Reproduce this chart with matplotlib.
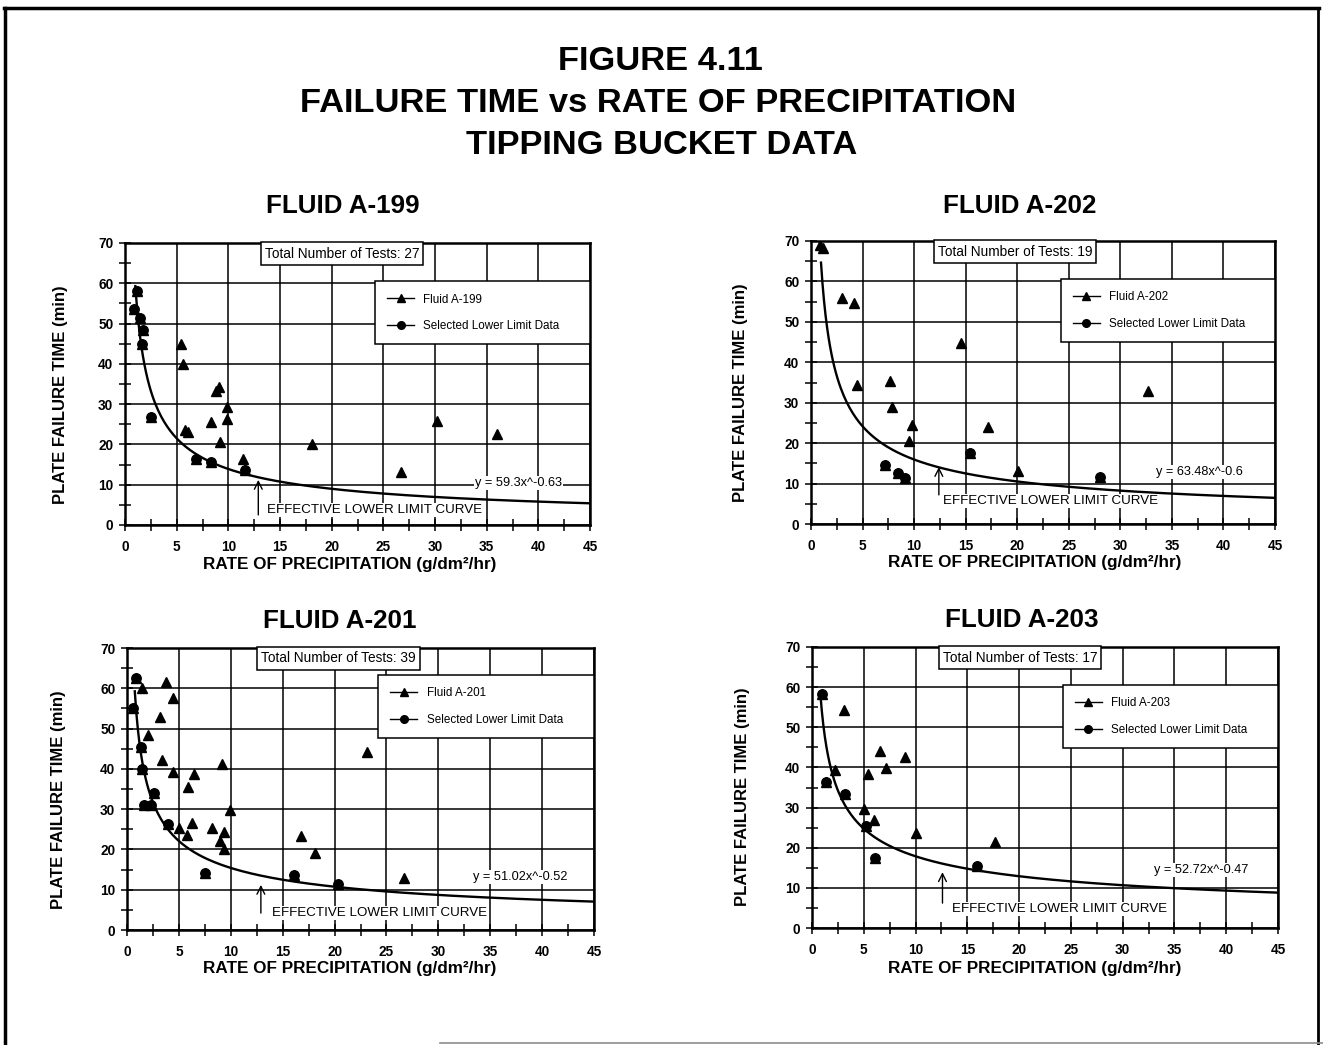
import numpy as np
import matplotlib
matplotlib.use("Agg")
import matplotlib.pyplot as plt
from matplotlib.lines import Line2D

plt.rcParams['font.family'] = ['Liberation Sans', 'DejaVu Sans']

# ---------------- data ----------------
fluids = ["A-199", "A-202", "A-201", "A-203"]
total_tests = [27, 19, 39, 17]
fit_coef = [59.3, 63.48, 51.02, 52.72]
fit_exp = [-0.63, -0.6, -0.52, -0.47]
fit_labels = ["y = 59.3x^-0.63", "y = 63.48x^-0.6", "y = 51.02x^-0.52", "y = 52.72x^-0.47"]
fit_start = [1.0, 0.97, 0.75, 0.8]

a199_x = [0.9, 1.2, 1.45, 1.6, 1.75, 2.5, 5.4, 5.6, 5.8, 6.05, 6.9, 8.3, 8.3, 8.85, 9.05,
          9.2, 9.9, 9.9, 11.4, 11.65, 18.1, 26.7, 30.2, 36.0]
a199_y = [53.7, 58.0, 51.5, 45.0, 48.5, 26.9, 45.0, 39.9, 23.5, 23.0, 16.4, 25.5, 15.7, 33.2, 34.3,
          20.5, 29.3, 26.3, 16.5, 13.6, 20.0, 13.1, 25.8, 22.7]
a199_sel_x = [0.9, 1.2, 1.45, 1.6, 1.75, 2.5, 6.9, 8.3, 11.65]
a199_sel_y = [53.7, 58.0, 51.5, 45.0, 48.5, 26.9, 16.4, 15.7, 13.6]

a202_x = [0.9, 1.2, 3.0, 4.2, 4.5, 7.2, 7.7, 7.9, 8.4, 9.1, 9.5, 9.8, 14.5, 15.4, 17.2, 20.1, 28.0, 32.7]
a202_y = [69.0, 68.3, 55.8, 54.7, 34.4, 14.6, 35.4, 28.9, 12.5, 11.5, 20.6, 24.5, 44.7, 17.6, 23.9, 13.2, 11.7, 33.0]
a202_sel_x = [7.2, 8.4, 9.1, 15.4, 28.0]
a202_sel_y = [14.6, 12.5, 11.5, 17.6, 11.7]

a201_x = [0.6, 0.85, 1.4, 1.35, 2.0, 1.45, 1.6, 2.3, 2.6, 3.15, 3.4, 3.8, 4.4, 4.4, 3.95, 5.0, 5.8,
          5.9, 6.3, 6.5, 7.5, 8.2, 9.0, 9.2, 9.3, 9.3, 9.9, 16.1, 16.8, 18.1, 20.3, 23.1, 26.7]
a201_y = [55.0, 62.5, 60.0, 45.5, 48.4, 40.0, 31.1, 31.1, 34.0, 52.9, 42.2, 61.5, 57.5, 39.3, 26.2, 25.4, 23.7,
          35.6, 26.6, 38.6, 14.1, 25.2, 22.2, 41.1, 20.2, 24.4, 29.7, 13.6, 23.3, 19.0, 11.4, 44.3, 13.0]
a201_sel_x = [0.6, 0.85, 1.35, 1.45, 1.6, 2.3, 2.6, 3.95, 7.5, 16.1, 20.3]
a201_sel_y = [55.0, 62.5, 45.5, 40.0, 31.1, 31.1, 34.0, 26.2, 14.1, 13.6, 11.4]

a203_x = [0.95, 1.4, 2.25, 3.1, 3.15, 5.0, 5.25, 5.4, 6.0, 6.05, 6.6, 7.1, 8.95, 10.0, 15.9, 17.7]
a203_y = [58.2, 36.3, 39.4, 54.4, 33.3, 29.6, 25.3, 38.3, 26.8, 17.4, 44.2, 39.8, 42.7, 23.6, 15.5, 21.3]
a203_sel_x = [0.95, 1.4, 3.15, 5.25, 6.05, 15.9]
a203_sel_y = [58.2, 36.3, 33.3, 25.3, 17.4, 15.5]

tests_x = [a199_x, a202_x, a201_x, a203_x]
tests_y = [a199_y, a202_y, a201_y, a203_y]
sel_x = [a199_sel_x, a202_sel_x, a201_sel_x, a203_sel_x]
sel_y = [a199_sel_y, a202_sel_y, a201_sel_y, a203_sel_y]

# ---------------- layout (pixels) ----------------
W, H = 1323, 1045
axes_px = [(125, 243, 590, 525), (811, 241, 1275, 524), (127, 648, 594, 930), (812, 647, 1278, 928)]
title_px = [(343, 206), (1020, 206), (340, 621), (1022, 620)]
xlabel_px = [(350, 565), (1035, 563), (350, 969), (1035, 968)]
ylabel_px = [(60, 395), (740, 393), (58, 800), (743, 797)]
box_x = [21.0, 19.8, 20.4, 20.1]
legend_top = [60.5, 60.6, 63.3, 60.5]
eq_pos = [(38.1, 10.4), (37.7, 12.9), (37.9, 13.2), (37.6, 14.4)]
ell_pos = [(13.7, 3.7), (12.8, 5.7), (14.0, 4.2), (13.5, 4.7)]
arrow_pos = [(12.9, 2.5, 11.2), (12.4, 7.2, 14.1), (12.9, 4.2, 11.2), (12.6, 6.2, 13.9)]

NARROW = ['Liberation Sans Narrow', 'Liberation Sans', 'DejaVu Sans']

fig = plt.figure(figsize=(W / 100, H / 100), dpi=100)
fig.patch.set_facecolor('white')

def fx(x):
    return x / W

def fy(y):
    return 1 - y / H

# page frame
fig.add_artist(Line2D([fx(5), fx(5)], [fy(1045), fy(8)], color='k', lw=2.5))
fig.add_artist(Line2D([fx(4), fx(1319)], [fy(8), fy(8)], color='k', lw=2.5))
fig.add_artist(Line2D([fx(1318), fx(1318)], [fy(8), fy(1045)], color='k', lw=2.0))
fig.add_artist(Line2D([fx(440), fx(1323)], [fy(1043), fy(1043)], color='0.55', lw=1.2))

# main title
TS = 24.8
fig.text(fx(660), fy(62), "FIGURE 4.11", ha='center', va='center', fontsize=TS, fontweight='bold')
fig.text(fx(658), fy(103), "FAILURE TIME vs RATE OF PRECIPITATION", ha='center', va='center',
         fontsize=TS, fontweight='bold')
fig.text(fx(662), fy(145), "TIPPING BUCKET DATA", ha='center', va='center', fontsize=TS, fontweight='bold')

for i in range(4):
    l, t, r, b = axes_px[i]
    ax = fig.add_axes([fx(l), fy(b), (r - l) / W, (b - t) / H])
    ax.set_xlim(0, 45)
    ax.set_ylim(0, 70)
    ax.set_xticks(np.arange(0, 46, 5))
    ax.set_xticks(np.arange(2.5, 45, 5), minor=True)
    ax.set_yticks(np.arange(0, 71, 10))
    ax.set_yticks(np.arange(5, 70, 10), minor=True)
    ax.grid(True, which='major', color='k', lw=1.1)
    ax.set_axisbelow(True)
    ax.tick_params(which='both', direction='inout', length=9, width=1.1, color='k')
    ax.tick_params(axis='x', pad=6)
    ax.tick_params(axis='y', pad=4)
    for lab in ax.get_xticklabels() + ax.get_yticklabels():
        lab.set_fontsize(9.8)
        lab.set_fontweight('bold')
    for sp in ax.spines.values():
        sp.set_linewidth(1.8)

    # data
    ax.plot(tests_x[i], tests_y[i], linestyle='none', marker='^', color='k', ms=7.8, zorder=4)
    ax.plot(sel_x[i], sel_y[i], linestyle='none', marker='o', color='k', ms=6.8, zorder=5)

    # power-law lower limit curve
    xc = np.linspace(fit_start[i], 45, 300)
    ax.plot(xc, fit_coef[i] * xc ** fit_exp[i], color='k', lw=1.7, zorder=3)

    # legend
    h1 = Line2D([], [], color='k', lw=1.0, marker='^', ms=6)
    h2 = Line2D([], [], color='k', lw=1.0, marker='o', ms=5.5)
    leg = ax.legend([h1, h2], ["Fluid " + fluids[i], "Selected Lower Limit Data"],
                    loc='upper left', mode='expand',
                    bbox_to_anchor=(24.2, 0, 20.8, legend_top[i]), bbox_transform=ax.transData,
                    borderaxespad=0, fancybox=False, framealpha=1, edgecolor='k',
                    prop={'family': NARROW, 'size': 8.4}, handlelength=2.3, handletextpad=0.8,
                    labelspacing=1.25, borderpad=1.05)
    leg.get_frame().set_linewidth(1.1)
    leg.set_zorder(6)

    # total number of tests box
    ax.annotate("Total Number of Tests: %d" % total_tests[i], xy=(box_x[i], 70), xycoords='data',
                xytext=(0, -3.5), textcoords='offset pixels', ha='center', va='top',
                fontsize=9.8, family=NARROW,
                bbox=dict(boxstyle='square,pad=0.3', fc='white', ec='k', lw=1.1), zorder=7)

    # equation
    ax.text(eq_pos[i][0], eq_pos[i][1], fit_labels[i], ha='center', va='center', fontsize=9.2,
            family=NARROW, bbox=dict(boxstyle='square,pad=0.1', fc='white', ec='none'), zorder=6)

    # effective lower limit label and arrow
    ax.text(ell_pos[i][0], ell_pos[i][1], "EFFECTIVE LOWER LIMIT CURVE", ha='left', va='center',
            fontsize=9.6, bbox=dict(boxstyle='square,pad=0.1', fc='white', ec='none'), zorder=6)
    ax_x, y0, y1 = arrow_pos[i]
    ax.annotate('', xy=(ax_x, y1), xytext=(ax_x, y0),
                arrowprops=dict(arrowstyle='->', lw=1.0, color='k', mutation_scale=14,
                                shrinkA=0, shrinkB=0), zorder=7)

    # titles / labels
    fig.text(fx(title_px[i][0]), fy(title_px[i][1]), "FLUID " + fluids[i], ha='center', va='center',
             fontsize=18.7, fontweight='bold')
    fig.text(fx(xlabel_px[i][0]), fy(xlabel_px[i][1]), "RATE OF PRECIPITATION (g/dm\u00b2/hr)",
             ha='center', va='center', fontsize=12.3, fontweight='bold')
    fig.text(fx(ylabel_px[i][0]), fy(ylabel_px[i][1]), "PLATE FAILURE TIME (min)", ha='center',
             va='center', rotation=90, fontsize=12, fontweight='bold')

fig.savefig("out.png", dpi=100, facecolor='white')
